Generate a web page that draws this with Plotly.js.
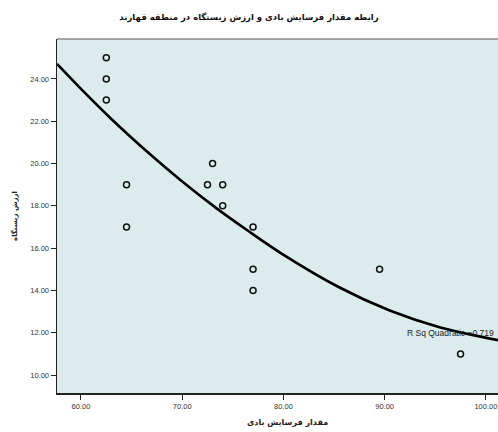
<!DOCTYPE html>
<html>
<head>
<meta charset="utf-8">
<script src="https://cdn.plot.ly/plotly-3.0.1.min.js"></script>
<style>html,body{margin:0;padding:0;background:#fff;}</style>
</head>
<body>
<div id="chart" style="width:498px;height:432px;"></div>
<script>
// Observed points: wind erosion amount (x) vs habitat value (y)
const erosionX = [62.5, 62.5, 62.5, 64.5, 64.5, 73, 72.5, 74, 74, 77, 77, 77, 89.5, 97.5];
const habitatY = [25, 24, 23, 19, 17, 20, 19, 19, 18, 17, 15, 14, 15, 11];
// Quadratic fit curve
const fitX = [57.63, 60, 63, 66.8, 70, 73.4, 76.5, 79.7, 85.5, 90.5, 95.5, 101.2];
const fitY = [24.71, 23.53, 22.11, 20.45, 19.15, 17.88, 16.82, 15.78, 14.15, 13.05, 12.25, 11.65];
const rsqLabel = "R Sq Quadratic =0.719";
const titleText = "رابطه مقدار فرسایش بادی و ارزش زیستگاه در منطقه قهارند";
const xTitle = "مقدار فرسایش بادی";
const yTitle = "ارزش زیستگاه";

const traces = [
  {
    x: fitX, y: fitY, type: 'scatter', mode: 'lines',
    line: {color: '#000', width: 2.6, shape: 'spline', smoothing: 0.8},
    hoverinfo: 'skip', showlegend: false
  },
  {
    x: erosionX, y: habitatY, type: 'scatter', mode: 'markers',
    marker: {symbol: 'circle-open', size: 6, color: '#111', line: {width: 1.5, color: '#111'}},
    showlegend: false
  }
];

const layout = {
  width: 498, height: 432,
  margin: {l: 57, r: 0, t: 39, b: 39},
  paper_bgcolor: '#ffffff',
  plot_bgcolor: '#dcecec',
  font: {family: 'Liberation Sans, Arial, sans-serif', color: '#222'},
  title: {text: '<b>' + titleText + '</b>', x: 0.5, xanchor: 'center', y: 1 - 17/432, yanchor: 'middle',
          font: {size: 8.5, color: '#111', family: 'DejaVu Sans, sans-serif'}},
  xaxis: {
    range: [57.63, 101.2], dtick: 10, tick0: 60, tickformat: '.2f',
    showgrid: false, zeroline: false,
    showline: true, linecolor: '#222', linewidth: 1.5, mirror: false,
    ticks: 'outside', ticklen: 5, tickwidth: 1, tickcolor: '#222',
    tickfont: {size: 7.5, color: '#333'}
  },
  yaxis: {
    range: [9.15, 25.89], dtick: 2, tick0: 10, tickformat: '.2f',
    showgrid: false, zeroline: false,
    showline: true, linecolor: '#222', linewidth: 1.5,
    ticks: 'outside', ticklen: 5, tickwidth: 1, tickcolor: '#222',
    tickfont: {size: 7.5, color: '#333'},
    title: {text: '<b>' + yTitle + '</b>', standoff: 12, font: {size: 7, color: '#222', family: 'DejaVu Sans, sans-serif'}}
  },
  shapes: [
    {type: 'line', xref: 'paper', yref: 'paper', x0: 0, x1: 1, y0: 1, y1: 1, line: {color: '#555', width: 1.2}}
  ],
  annotations: [
    {text: rsqLabel, x: 92.0, y: 12.0, xref: 'x', yref: 'y', xanchor: 'left', yanchor: 'middle',
     showarrow: false, font: {size: 8.5, color: '#222'}},
    {text: '<b>' + xTitle + '</b>', x: 0.5, y: 0, xref: 'paper', yref: 'paper', showarrow: false,
     font: {size: 8, color: '#222', family: 'DejaVu Sans, sans-serif'}}
  ]
};
// place x-axis title annotation in paper coords
const plotW = 498 - 57, plotH = 432 - 39 - 39;
layout.annotations[1].x = (287 - 57) / plotW;
layout.annotations[1].y = (393 - 423) / plotH;
layout.annotations[1].yanchor = 'middle';

Plotly.newPlot('chart', traces, layout, {displayModeBar: false, staticPlot: true});
</script>
</body>
</html>
